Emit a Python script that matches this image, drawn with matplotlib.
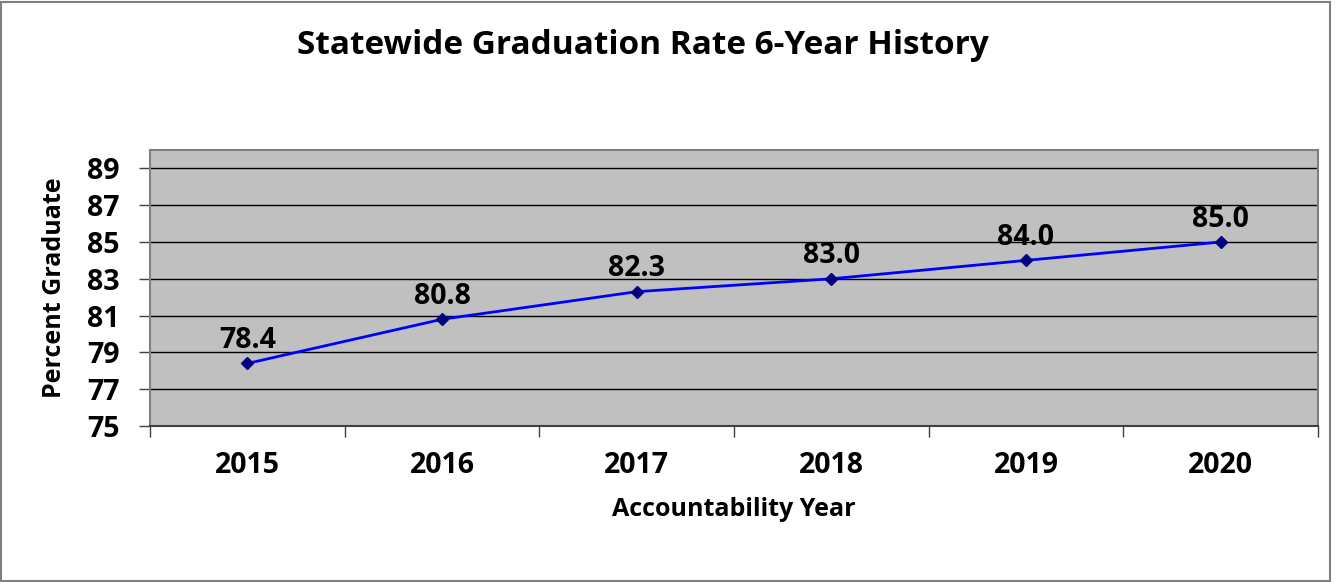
import matplotlib.pyplot as plt
from matplotlib.patches import Rectangle

plt.rcParams["font.family"] = ["Open Sans", "DejaVu Sans"]
plt.rcParams["font.weight"] = "bold"

years = ["2015", "2016", "2017", "2018", "2019", "2020"]
rates = [78.4, 80.8, 82.3, 83.0, 84.0, 85.0]
y_ticks = [75, 77, 79, 81, 83, 85, 87, 89]

fig = plt.figure(figsize=(13.37, 5.82), dpi=100)
ax = fig.add_axes([150 / 1337, 1 - 426 / 582, 1168 / 1337, 276 / 582])
ax.set_facecolor("#C0C0C0")

x = list(range(len(years)))
ax.plot(x, rates, color="#0000FF", lw=2, marker="D", ms=6,
        mfc="#000080", mec="#000080", zorder=3)
for xi, v in zip(x, rates):
    ax.annotate(f"{v:.1f}", (xi, v), xytext=(0, 6), textcoords="offset points",
                ha="center", va="bottom", fontsize=20.5, fontweight="bold")

ax.set_xlim(-0.5, len(years) - 0.5)
ax.set_ylim(75, 90)
ax.set_yticks(y_ticks)
ax.set_yticklabels([str(t) for t in y_ticks], fontsize=20.5, fontweight="bold")
ax.set_xticks(x)
ax.set_xticklabels(years, fontsize=20.5, fontweight="bold")
ax.set_xticks([i - 0.5 for i in range(len(years) + 1)], minor=True)
ax.tick_params(axis="x", which="major", length=0, pad=18)
ax.tick_params(axis="x", which="minor", length=8, width=1, color="#404040", direction="out")
ax.tick_params(axis="y", length=8, width=1, color="#404040", direction="out", pad=14)
ax.grid(axis="y", color="black", lw=1)
ax.set_axisbelow(True)
for s in ax.spines.values():
    s.set_color("#808080")
    s.set_linewidth(1.5)
ax.spines["bottom"].set_color("#404040")

ax.set_xlabel("Accountability Year", fontsize=18, fontweight="bold", labelpad=12)
ax.set_ylabel("Percent Graduate", fontsize=18, fontweight="bold", labelpad=14)

fig.text(643 / 1337, 1 - 45 / 582, "Statewide Graduation Rate 6-Year History",
         ha="center", va="center", fontsize=24, fontweight="bold")

fig.patches.append(Rectangle((0.001, 0.002), 0.994, 0.995, transform=fig.transFigure,
                             fill=False, edgecolor="#808080", lw=1.5))

fig.savefig("out.png", dpi=100)
